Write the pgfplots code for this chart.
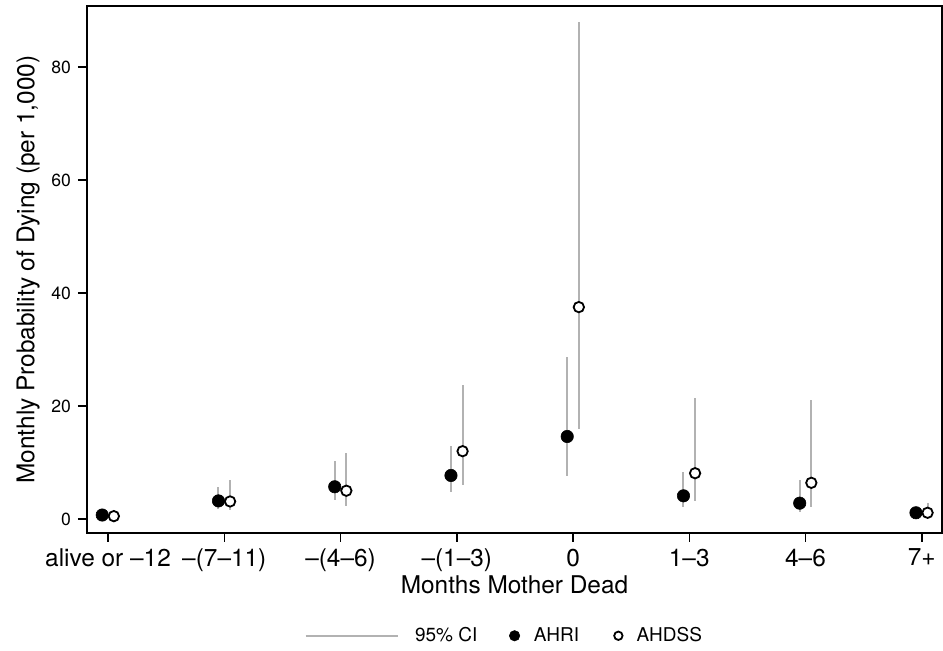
\documentclass[border=0pt]{standalone}
\usepackage{pgfplots}
\pgfplotsset{compat=1.18}
\usepackage{pgfplotstable}
\usepackage{fontspec}
\setmainfont{TeX Gyre Heros}

\pgfplotstableread{
cat est lo hi
0 0.7 0.4 1.0
1 3.2 1.8 5.7
2 5.7 3.4 10.3
3 7.7 4.7 12.9
4 14.6 7.6 28.7
5 4.1 2.1 8.4
6 2.8 1.3 6.9
7 1.1 0.7 1.6
}\ahri

\pgfplotstableread{
cat est lo hi
0 0.5 0.2 1.0
1 3.1 1.6 6.9
2 5.0 2.3 11.7
3 12.0 6.0 23.8
4 37.5 15.9 88.0
5 8.1 3.1 21.5
6 6.4 2.1 21.1
7 1.1 0.4 2.9
}\ahdss

\definecolor{cigray}{RGB}{178,178,178}

\begin{document}
\begin{tikzpicture}
\path[use as bounding box] (0,0) rectangle (471.5pt,325.5pt);
\begin{axis}[
  at={(43.5pt,59pt)}, anchor=south west,
  scale only axis, width=427.5pt, height=263.5pt,
  xmin=-0.181, xmax=7.174, ymin=-2.48, ymax=90.8,
  axis line style={line width=1pt},
  xtick={0,1,2,3,4,5,6,7},
  xticklabels={alive or –12, –(7–11), –(4–6), –(1–3), 0, 1–3, 4–6, 7+},
  ytick={0,20,40,60,80},
  tick align=outside, tick pos=left,
  major tick length=4.5pt,
  tick style={line width=0.75pt, black},
  x tick label style={font=\fontsize{12.2}{14}\selectfont},
  y tick label style={font=\fontsize{8.8}{10}\selectfont},
  /pgf/number format/assume math mode=true,
  xlabel={Months Mother Dead},
  ylabel={Monthly Probability of Dying (per 1,000)},
  label style={font=\fontsize{12.2}{14}\selectfont},
  xlabel style={at={(axis description cs:0.5,-0.0987)}, anchor=center},
  ylabel style={at={(axis description cs:-0.069,0.5)}, anchor=center},
  legend style={at={(axis description cs:0.4893,-0.195)}, anchor=center,
    draw=none, fill=none, font=\fontsize{9.5}{11}\selectfont,
    /tikz/every odd column/.append style={column sep=5pt},
    /tikz/column 2/.style={column sep=14pt},
    /tikz/column 4/.style={column sep=15.5pt}},
  legend columns=3, legend cell align=left,
]
\addplot[only marks, mark=none,
  legend image code/.code={\draw[draw=cigray, line width=1pt] (0pt,0pt) -- (46pt,0pt); \path (47.5pt,0pt);},
  error bars/.cd, y dir=both, y explicit, error mark=none,
  error bar style={draw=cigray, line width=1pt}]
  table[x expr=\thisrow{cat}-0.05, y=est,
        y error plus expr=\thisrow{hi}-\thisrow{est},
        y error minus expr=\thisrow{est}-\thisrow{lo}] {\ahri};
\addplot[only marks, mark=none, forget plot,
  error bars/.cd, y dir=both, y explicit, error mark=none,
  error bar style={draw=cigray, line width=1pt}]
  table[x expr=\thisrow{cat}+0.05, y=est,
        y error plus expr=\thisrow{hi}-\thisrow{est},
        y error minus expr=\thisrow{est}-\thisrow{lo}] {\ahdss};
\addplot[only marks, mark=*, mark size=3.1pt,
  mark options={draw=black, fill=black, line width=0.3pt},
  legend image code/.code={\draw[mark size=2.6pt] plot coordinates {(0pt,0pt)};}]
  table[x expr=\thisrow{cat}-0.05, y=est] {\ahri};
\addplot[only marks, mark=*, mark size=2.6pt,
  mark options={draw=black, fill=white, line width=0.9pt},
  legend image code/.code={\draw[mark size=2.1pt] plot coordinates {(0pt,0pt)};}]
  table[x expr=\thisrow{cat}+0.05, y=est] {\ahdss};
\legend{95\% CI, AHRI, AHDSS}
\end{axis}
\end{tikzpicture}
\end{document}
